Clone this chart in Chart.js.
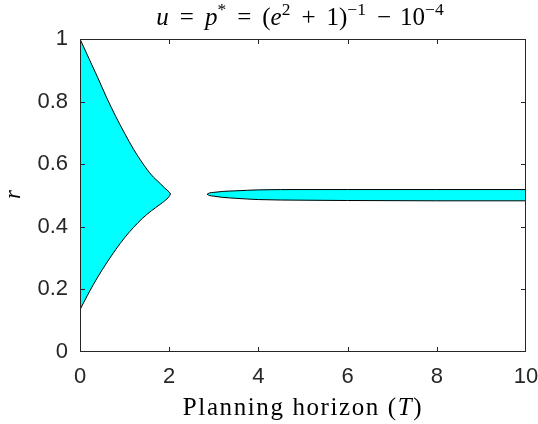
<!DOCTYPE html>
<html>
<head>
<meta charset="utf-8">
<script src="https://cdn.jsdelivr.net/npm/chart.js@4.4.1/dist/chart.umd.min.js"></script>
<style>
html, body { margin: 0; padding: 0; background: #fff; }
#wrap { width: 538px; height: 424px; }
</style>
</head>
<body>
<div id="wrap"><canvas id="c"></canvas></div>
<script>
// region 1 (left lobe), shared T values for upper/lower edge
const leftT     = [0, 0.2, 0.4, 0.6, 0.8, 1.0, 1.2, 1.4, 1.6, 1.8, 1.9, 2.0, 2.03];
const leftUpper = [1.0, 0.938, 0.876, 0.812, 0.753, 0.699, 0.648, 0.604, 0.566, 0.538, 0.524, 0.511, 0.505];
const leftLower = [0.135, 0.19, 0.24, 0.285, 0.327, 0.365, 0.398, 0.427, 0.451, 0.472, 0.483, 0.497, 0.505];

// region 2 (thin band on the right)
const rightT     = [2.85, 2.9, 3.0, 3.2, 3.5, 4.0, 5.0, 6.0, 8.0, 10.0];
const rightUpper = [0.504, 0.508, 0.510, 0.513, 0.515, 0.518, 0.519, 0.519, 0.519, 0.519];
const rightLower = [0.504, 0.500, 0.498, 0.494, 0.491, 0.487, 0.485, 0.484, 0.483, 0.483];

const xTicks = [0, 2, 4, 6, 8, 10];
const yTicks = [0, 0.2, 0.4, 0.6, 0.8, 1];

// text runs: [text, italic, superscript]; a bare number is a gap in px
const titleRuns = [
    ['u', 1, 0], 11, ['=', 0, 0], 11, ['p', 1, 0], ['*', 0, 1], 11, ['=', 0, 0], 11,
    ['(', 0, 0], ['e', 1, 0], ['2', 0, 1], 11, ['+', 0, 0], 11, ['1)', 0, 0], ['\u22121', 0, 1],
    11, ['\u2212', 0, 0], 9, ['10', 0, 0], ['\u22124', 0, 1]
];
const xLabelRuns = [['Planning horizon (', 0, 0], ['T', 1, 0], [')', 0, 0]];
const yLabel = 'r';

const CYAN = '#00ffff';
const AXIS = '#262626';
const SERIF = '"Liberation Serif", "DejaVu Serif", serif';
const SANS = '"Liberation Sans", Arial, sans-serif';

const pts = (xs, ys) => xs.map((x, i) => ({ x: x, y: ys[i] }));

function drawRuns(ctx, runs, cx, base, size, spacing) {
    const fontOf = r => (r[1] ? 'italic ' : '') + (r[2] ? size * 0.7 : size) + 'px ' + SERIF;
    ctx.letterSpacing = (spacing || 0) + 'px';
    const widthOf = r => {
        if (typeof r === 'number') return r;
        ctx.font = fontOf(r);
        return ctx.measureText(r[0]).width;
    };
    let x = cx - runs.reduce((s, r) => s + widthOf(r), 0) / 2;
    ctx.textAlign = 'left';
    ctx.textBaseline = 'alphabetic';
    runs.forEach(r => {
        if (typeof r !== 'number') {
            ctx.font = fontOf(r);
            ctx.fillText(r[0], x, r[2] ? base - size * 0.42 : base);
        }
        x += widthOf(r);
    });
    ctx.letterSpacing = '0px';
}

const frame = {
    id: 'frame',
    afterDraw(chart) {
        const { ctx, chartArea: a, scales: { x, y } } = chart;
        ctx.save();
        ctx.strokeStyle = AXIS;
        ctx.lineWidth = 1;
        ctx.strokeRect(a.left + 0.5, a.top + 0.5, a.right - a.left - 1, a.bottom - a.top - 1);
        ctx.beginPath();
        xTicks.slice(1, -1).forEach(v => {
            const px = Math.round(x.getPixelForValue(v)) + 0.5;
            ctx.moveTo(px, a.bottom); ctx.lineTo(px, a.bottom - 5);
            ctx.moveTo(px, a.top); ctx.lineTo(px, a.top + 5);
        });
        yTicks.slice(1, -1).forEach(v => {
            const py = Math.round(y.getPixelForValue(v)) + 0.5;
            ctx.moveTo(a.left, py); ctx.lineTo(a.left + 5, py);
            ctx.moveTo(a.right, py); ctx.lineTo(a.right - 5, py);
        });
        ctx.stroke();

        ctx.fillStyle = '#000';
        const mid = (a.left + a.right) / 2;
        drawRuns(ctx, titleRuns, mid - 3, 25, 25);
        drawRuns(ctx, xLabelRuns, mid, 415, 25, 1.6);

        ctx.translate(20, (a.top + a.bottom) / 2 - 1);
        ctx.rotate(-Math.PI / 2);
        ctx.font = 'italic 23px ' + SERIF;
        ctx.textAlign = 'center';
        ctx.textBaseline = 'alphabetic';
        ctx.fillText(yLabel, 0, 0);
        ctx.restore();
    }
};

const edge = {
    showLine: true, pointRadius: 0, borderColor: '#000', borderWidth: 1,
    cubicInterpolationMode: 'monotone'
};
const tickText = v => String(Math.round(v * 10) / 10);

new Chart(document.getElementById('c'), {
    type: 'scatter',
    data: {
        datasets: [
            { ...edge, data: pts(leftT, leftUpper), fill: false },
            { ...edge, data: pts(leftT, leftLower), fill: '-1', backgroundColor: CYAN },
            { ...edge, data: pts(rightT, rightUpper), fill: false },
            { ...edge, data: pts(rightT, rightLower), fill: '-1', backgroundColor: CYAN }
        ]
    },
    options: {
        responsive: true,
        maintainAspectRatio: false,
        animation: false,
        layout: { padding: { top: 39, right: 0, left: 0, bottom: 0 } },
        plugins: { legend: { display: false }, tooltip: { enabled: false } },
        scales: {
            x: {
                type: 'linear', min: 0, max: 10,
                afterBuildTicks: s => { s.ticks = xTicks.map(v => ({ value: v })); },
                afterFit: s => { s.height = 72; s.paddingRight = 12; },
                grid: { display: false, drawTicks: false },
                border: { display: false },
                ticks: { padding: 12, color: AXIS, font: { family: SANS, size: 22 }, maxRotation: 0, callback: tickText }
            },
            y: {
                type: 'linear', min: 0, max: 1,
                afterBuildTicks: s => { s.ticks = yTicks.map(v => ({ value: v })); },
                afterFit: s => { s.width = 80; },
                grid: { display: false, drawTicks: false },
                border: { display: false },
                ticks: { padding: 12, color: AXIS, font: { family: SANS, size: 22 }, callback: tickText }
            }
        }
    },
    plugins: [frame]
});
</script>
</body>
</html>
